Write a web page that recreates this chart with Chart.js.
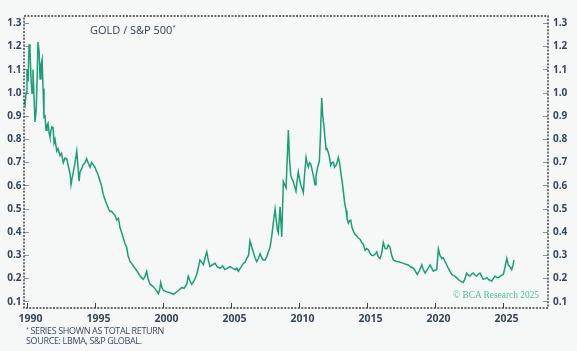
<!DOCTYPE html>
<html>
<head>
<meta charset="utf-8">
<script src="https://cdn.jsdelivr.net/npm/chart.js@4.4.0/dist/chart.umd.min.js"></script>
<style>
  html, body { margin: 0; padding: 0; background: #f6f8f8; }
  #wrap { position: relative; width: 577px; height: 351px; overflow: hidden; }
  canvas { position: absolute; left: 0; top: 0; }
  .title { position: absolute; left: 90px; top: 22px; font: 500 11px "Open Sans", sans-serif; color: #33435a; white-space: nowrap; }
  .title sup { font-size: 6px; vertical-align: 5px; }
  .note { position: absolute; left: 26px; top: 324px; font: 500 9px "Open Sans", sans-serif; line-height: 10px; color: #3a4a63; letter-spacing: -0.35px; white-space: nowrap; }
  .note sup { font-size: 5px; vertical-align: 3px; }
  .copy { position: absolute; left: 453px; top: 290px; font: 400 9.4px "Liberation Serif", serif; color: #4dbf9b; white-space: nowrap; }
</style>
</head>
<body>
<div id="wrap">
  <canvas id="c" width="577" height="351"></canvas>
  <div class="title">GOLD / S&amp;P 500<sup>*</sup></div>
  <div class="note"><sup>*</sup> SERIES SHOWN AS TOTAL RETURN<br>SOURCE: LBMA, S&amp;P GLOBAL.</div>
  <div class="copy">© BCA Research 2025</div>
</div>
<script>
// ---- data ----
const dates = [
  1989.74,1989.82,1989.89,1989.96,1990.04,1990.11,1990.18,1990.26,1990.33,1990.40,1990.48,1990.55,1990.63,1990.70,1990.77,1990.85,1990.92,1990.99,1991.07,1991.14,1991.21,1991.29,1991.36,1991.43,1991.51,1991.58,1991.65,1991.73,1991.80,1991.88,1991.95,
  1992.02,1992.15,1992.24,1992.39,1992.50,1992.63,1992.76,1992.88,1992.98,1993.13,1993.20,1993.27,1993.37,1993.49,1993.62,1993.71,1993.79,1993.86,1993.99,1994.08,1994.23,1994.35,1994.45,1994.60,1994.71,1994.84,
  1994.96,1995.09,1995.18,1995.33,1995.44,1995.57,1995.70,1995.82,1995.96,1996.07,1996.18,1996.31,1996.43,1996.56,1996.68,1996.80,1996.93,1997.02,1997.17,1997.29,1997.39,1997.54,
  1997.72,1997.90,1998.09,1998.27,1998.51,1998.64,1998.76,1998.86,1999.01,1999.19,1999.38,1999.52,1999.62,1999.71,1999.79,1999.89,1999.99,
  2000.17,2000.35,2000.54,2000.72,2000.90,2001.09,2001.21,2001.34,2001.51,2001.71,2001.82,2001.95,2002.07,2002.24,2002.44,2002.57,2002.68,2002.81,2002.93,
  2003.05,2003.18,2003.29,2003.42,2003.60,2003.79,2003.97,2004.15,2004.34,2004.52,2004.71,2004.89,2005.07,2005.26,2005.38,2005.50,2005.70,
  2005.87,2005.99,2006.12,2006.25,2006.36,2006.47,2006.60,2006.73,2006.85,2006.99,2007.10,2007.22,2007.34,2007.46,2007.59,2007.71,2007.83,2007.96,2008.07,2008.20,2008.37,2008.44,2008.57,2008.69,2008.81,
  2009.01,2009.18,2009.26,2009.35,2009.45,2009.54,2009.63,2009.74,2009.82,2009.91,2010.00,2010.09,2010.18,2010.28,2010.37,2010.48,2010.55,2010.65,2010.74,2010.82,2010.92,2011.01,2011.14,2011.21,2011.31,2011.38,2011.46,
  2011.54,2011.63,2011.71,2011.80,2011.88,2011.95,2012.02,2012.12,2012.21,2012.29,2012.39,2012.49,2012.57,2012.68,2012.76,2012.85,2012.94,2013.03,2013.13,2013.22,2013.31,2013.42,2013.49,2013.59,2013.68,2013.76,2013.86,2013.96,
  2014.08,2014.21,2014.32,2014.45,2014.57,2014.69,2014.82,2014.94,2015.06,2015.18,2015.31,2015.43,2015.55,2015.68,2015.79,2015.92,2016.04,2016.16,2016.29,2016.41,2016.53,2016.65,2016.78,2016.90,
  2017.08,2017.26,2017.45,2017.63,2017.82,2018.00,2018.18,2018.37,2018.49,2018.66,2018.82,2018.99,2019.10,2019.23,2019.41,2019.60,2019.72,2019.84,2019.96,2020.09,
  2020.21,2020.33,2020.46,2020.57,2020.70,2020.82,2020.94,2021.07,2021.19,2021.31,2021.43,2021.62,2021.80,2021.93,2022.04,2022.17,2022.29,2022.41,2022.54,2022.66,2022.78,2022.90,2023.03,
  2023.15,2023.27,2023.40,2023.51,2023.64,2023.76,2023.93,2024.13,2024.25,2024.38,2024.50,2024.62,2024.74,2024.87,2024.99,2025.11,2025.24,2025.35,2025.48,2025.60,2025.70,2025.77
];
const goldSpx = [
  0.97,0.95,1.00,1.10,1.05,1.21,1.185,1.06,1.00,1.10,0.98,0.875,0.925,1.05,1.22,1.18,1.06,1.12,1.145,1.02,0.895,0.90,0.84,0.86,0.87,0.83,0.81,0.84,0.855,0.85,0.785,
  0.80,0.75,0.76,0.73,0.74,0.70,0.72,0.717,0.69,0.65,0.605,0.63,0.66,0.70,0.75,0.68,0.62,0.66,0.675,0.69,0.70,0.717,0.70,0.68,0.70,0.69,
  0.68,0.66,0.65,0.62,0.60,0.563,0.54,0.522,0.50,0.489,0.49,0.48,0.473,0.453,0.46,0.42,0.397,0.38,0.35,0.335,0.30,0.273,
  0.26,0.245,0.23,0.211,0.197,0.21,0.232,0.20,0.176,0.168,0.156,0.145,0.135,0.15,0.183,0.16,0.149,
  0.145,0.141,0.138,0.132,0.14,0.149,0.155,0.162,0.158,0.176,0.211,0.19,0.176,0.19,0.218,0.25,0.28,0.27,0.26,
  0.29,0.315,0.28,0.252,0.26,0.266,0.25,0.245,0.255,0.239,0.245,0.252,0.245,0.239,0.245,0.232,0.25,
  0.266,0.27,0.287,0.30,0.363,0.34,0.315,0.29,0.273,0.29,0.307,0.29,0.28,0.28,0.294,0.315,0.335,0.384,0.439,0.50,0.411,0.398,0.51,0.38,0.619,
  0.591,0.84,0.72,0.646,0.63,0.619,0.60,0.577,0.62,0.66,0.63,0.605,0.59,0.571,0.65,0.722,0.70,0.681,0.70,0.695,0.67,0.646,0.605,0.64,0.674,0.69,0.709,
  0.82,0.979,0.90,0.854,0.80,0.757,0.76,0.743,0.72,0.688,0.70,0.702,0.68,0.688,0.70,0.722,0.70,0.66,0.62,0.577,0.53,0.494,0.46,0.439,0.45,0.453,0.42,0.405,
  0.39,0.384,0.375,0.37,0.356,0.349,0.322,0.33,0.325,0.31,0.301,0.30,0.305,0.315,0.295,0.287,0.31,0.356,0.33,0.328,0.345,0.335,0.30,0.28,
  0.275,0.273,0.27,0.266,0.262,0.259,0.25,0.245,0.235,0.218,0.235,0.259,0.24,0.224,0.24,0.259,0.245,0.232,0.236,0.239,
  0.328,0.30,0.287,0.29,0.273,0.26,0.245,0.23,0.218,0.214,0.211,0.20,0.19,0.186,0.183,0.20,0.224,0.215,0.211,0.22,0.224,0.215,0.211,
  0.22,0.224,0.21,0.197,0.20,0.204,0.195,0.19,0.20,0.211,0.205,0.204,0.21,0.215,0.218,0.25,0.287,0.259,0.25,0.239,0.26,0.28
];
const xTicks = [1990, 1995, 2000, 2005, 2010, 2015, 2020, 2025];
const yTicks = [0.1, 0.2, 0.3, 0.4, 0.5, 0.6, 0.7, 0.8, 0.9, 1.0, 1.1, 1.2, 1.3];

// ---- chart ----
const tickFont = { family: "'Open Sans', sans-serif", size: 10, weight: '700' };
const labelColor = '#34465e';

const framePlugin = {
  id: 'frame',
  afterDatasetsDraw(chart) {
    const { ctx, chartArea: a } = chart;
    ctx.save();
    ctx.strokeStyle = '#3a3a3a';
    ctx.lineWidth = 1.4;
    ctx.setLineDash([2, 1.4]);
    ctx.strokeRect(a.left, a.top, a.right - a.left, a.bottom - a.top);
    ctx.restore();
  }
};

function yAxis(position, width, padding) {
  return {
    type: 'linear', position, min: 0.0735, max: 1.332,
    afterFit(s) { s.width = width; },
    afterBuildTicks(s) { s.ticks = yTicks.map(v => ({ value: v })); },
    border: { display: false },
    grid: { drawOnChartArea: false, drawTicks: true, tickLength: -5, tickColor: '#8c96a3', tickWidth: 1 },
    ticks: { padding, color: labelColor, font: tickFont, callback: v => v.toFixed(1) }
  };
}

new Chart(document.getElementById('c'), {
  type: 'line',
  data: {
    datasets: [{
      data: dates.map((d, i) => ({ x: d, y: goldSpx[i] })),
      borderColor: '#1b9e77',
      borderWidth: 1.5,
      pointRadius: 0,
      tension: 0,
      yAxisID: 'y'
    }]
  },
  options: {
    responsive: false,
    animation: false,
    devicePixelRatio: 1,
    layout: { padding: { top: 5, left: 0, right: 0, bottom: 0 } },
    plugins: { legend: { display: false }, tooltip: { enabled: false } },
    scales: {
      x: {
        type: 'linear', position: 'bottom', min: 1989.74, max: 2028.27,
        afterFit(s) { s.height = 43; },
        afterBuildTicks(s) { s.ticks = xTicks.map(v => ({ value: v })); },
        border: { display: false },
        grid: { drawOnChartArea: false, drawTicks: true, tickLength: -5, tickColor: '#34465e', tickWidth: 1 },
        ticks: { padding: 10, labelOffset: 3, maxRotation: 0, autoSkip: false, color: labelColor,
                 font: { family: "'Open Sans', sans-serif", size: 10.5, weight: '700' },
                 callback: v => String(v) }
      },
      y: yAxis('left', 24, 7.5),
      y2: yAxis('right', 29, 10)
    }
  },
  plugins: [framePlugin]
});
</script>
</body>
</html>
